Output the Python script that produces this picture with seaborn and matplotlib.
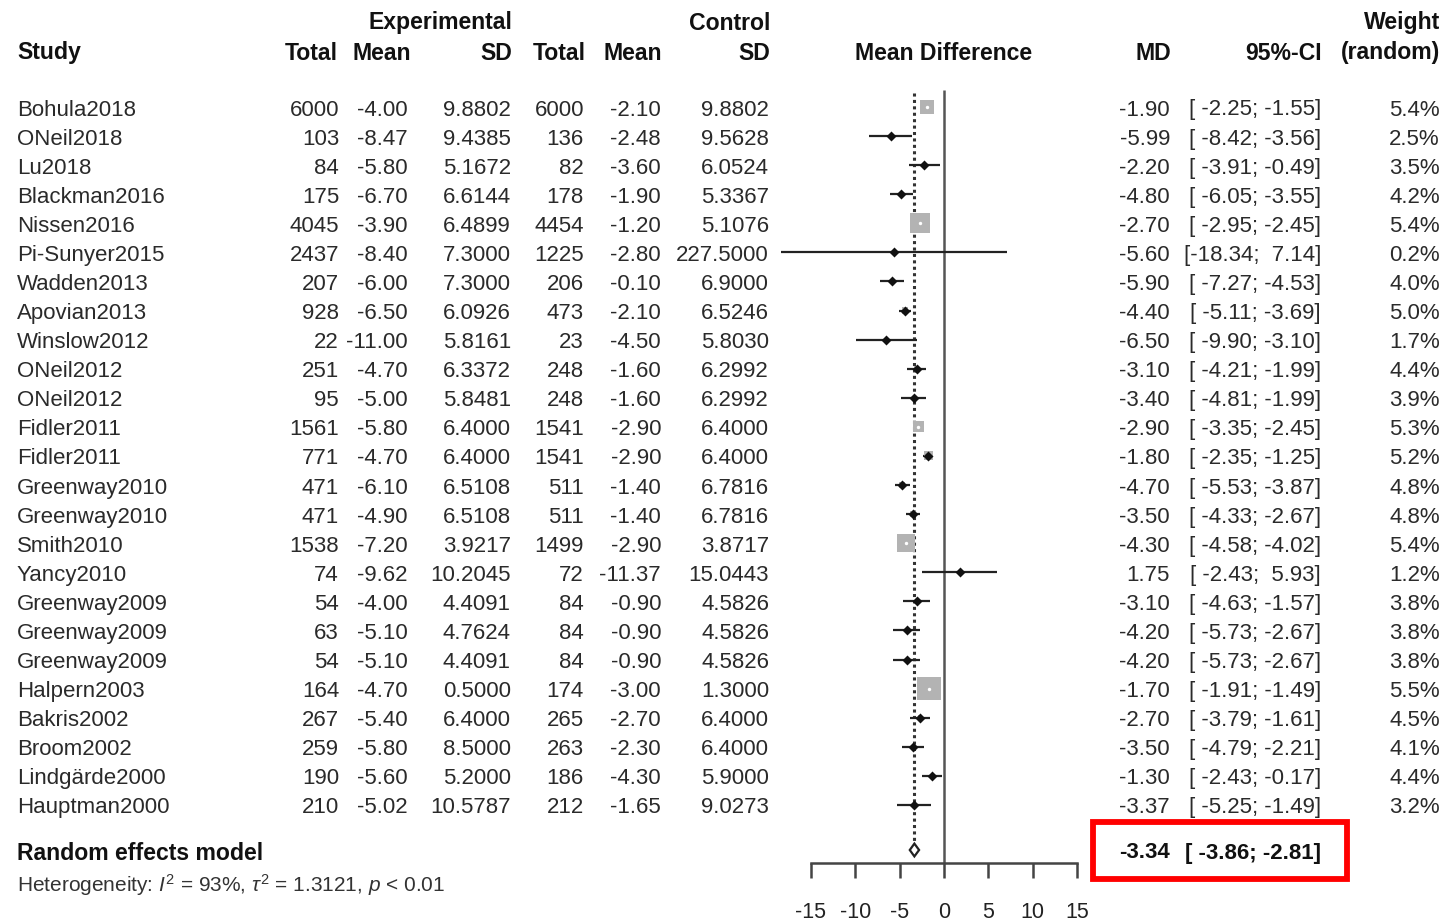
import numpy as np
import pandas as pd
import matplotlib
matplotlib.use("Agg")
import matplotlib.pyplot as plt
import matplotlib.transforms as mtransforms
from matplotlib.patches import Rectangle
import seaborn as sns

# ---------------- data ----------------
studies = ["Bohula2018", "ONeil2018", "Lu2018", "Blackman2016", "Nissen2016",
           "Pi-Sunyer2015", "Wadden2013", "Apovian2013", "Winslow2012", "ONeil2012",
           "ONeil2012", "Fidler2011", "Fidler2011", "Greenway2010", "Greenway2010",
           "Smith2010", "Yancy2010", "Greenway2009", "Greenway2009", "Greenway2009",
           "Halpern2003", "Bakris2002", "Broom2002", "Lindgärde2000", "Hauptman2000"]
exp_total = [6000, 103, 84, 175, 4045, 2437, 207, 928, 22, 251, 95, 1561, 771, 471, 471,
             1538, 74, 54, 63, 54, 164, 267, 259, 190, 210]
exp_mean = [-4.00, -8.47, -5.80, -6.70, -3.90, -8.40, -6.00, -6.50, -11.00, -4.70, -5.00,
            -5.80, -4.70, -6.10, -4.90, -7.20, -9.62, -4.00, -5.10, -5.10, -4.70, -5.40,
            -5.80, -5.60, -5.02]
exp_sd = [9.8802, 9.4385, 5.1672, 6.6144, 6.4899, 7.3000, 7.3000, 6.0926, 5.8161, 6.3372,
          5.8481, 6.4000, 6.4000, 6.5108, 6.5108, 3.9217, 10.2045, 4.4091, 4.7624, 4.4091,
          0.5000, 6.4000, 8.5000, 5.2000, 10.5787]
ctl_total = [6000, 136, 82, 178, 4454, 1225, 206, 473, 23, 248, 248, 1541, 1541, 511, 511,
             1499, 72, 84, 84, 84, 174, 265, 263, 186, 212]
ctl_mean = [-2.10, -2.48, -3.60, -1.90, -1.20, -2.80, -0.10, -2.10, -4.50, -1.60, -1.60,
            -2.90, -2.90, -1.40, -1.40, -2.90, -11.37, -0.90, -0.90, -0.90, -3.00, -2.70,
            -2.30, -4.30, -1.65]
ctl_sd = [9.8802, 9.5628, 6.0524, 5.3367, 5.1076, 227.5000, 6.9000, 6.5246, 5.8030, 6.2992,
          6.2992, 6.4000, 6.4000, 6.7816, 6.7816, 3.8717, 15.0443, 4.5826, 4.5826, 4.5826,
          1.3000, 6.4000, 6.4000, 5.9000, 9.0273]
md = [-1.90, -5.99, -2.20, -4.80, -2.70, -5.60, -5.90, -4.40, -6.50, -3.10, -3.40, -2.90,
      -1.80, -4.70, -3.50, -4.30, 1.75, -3.10, -4.20, -4.20, -1.70, -2.70, -3.50, -1.30, -3.37]
ci_lo = [-2.25, -8.42, -3.91, -6.05, -2.95, -18.34, -7.27, -5.11, -9.90, -4.21, -4.81, -3.35,
         -2.35, -5.53, -4.33, -4.58, -2.43, -4.63, -5.73, -5.73, -1.91, -3.79, -4.79, -2.43, -5.25]
ci_hi = [-1.55, -3.56, -0.49, -3.55, -2.45, 7.14, -4.53, -3.69, -3.10, -1.99, -1.99, -2.45,
         -1.25, -3.87, -2.67, -4.02, 5.93, -1.57, -2.67, -2.67, -1.49, -1.61, -2.21, -0.17, -1.49]
weight = [5.4, 2.5, 3.5, 4.2, 5.4, 0.2, 4.0, 5.0, 1.7, 4.4, 3.9, 5.3, 5.2, 4.8, 4.8, 5.4,
          1.2, 3.8, 3.8, 3.8, 5.5, 4.5, 4.1, 4.4, 3.2]
re_md, re_lo, re_hi = -3.34, -3.86, -2.81
i2_pct, tau2, p_text = 93, 1.3121, "< 0.01"
x_ticks = [-15, -10, -5, 0, 5, 10, 15]

# ---------------- style ----------------
sns.set_theme(style="white")
plt.rcParams['font.family'] = ['Liberation Sans', 'DejaVu Sans']
plt.rcParams['axes.unicode_minus'] = False
plt.rcParams['mathtext.fontset'] = 'custom'
plt.rcParams['mathtext.rm'] = 'Liberation Sans'
plt.rcParams['mathtext.it'] = 'Liberation Sans:italic'
plt.rcParams['mathtext.bf'] = 'Liberation Sans:bold'

W, H = 1447, 924
fig = plt.figure(figsize=(W / 100, H / 100), dpi=100)
fig.patch.set_facecolor("white")

x0_px, unit_px = 944, 266 / 30.0
xmin, xmax = -19.5, 16.5
ax = fig.add_axes([(x0_px + xmin * unit_px) / W, 0, (xmax - xmin) * unit_px / W, 1])
row0, row_h = 107.0, 29.08


def yrow(p):
    return (p - row0) / row_h


ax.set_xlim(xmin, xmax)
ax.set_ylim(yrow(H), yrow(0))
ax.patch.set_visible(False)
ax.grid(False)

df = pd.DataFrame({"study": studies, "md": md, "lo": ci_lo, "hi": ci_hi, "w": weight})
df["row"] = np.arange(len(df))
se = (df["hi"] - df["lo"]) / (2 * 1.96)
df["wfix"] = 1.0 / se ** 2
df["sq"] = 3.3 * df["wfix"]
side_px = np.sqrt(df["sq"]) / 0.72

# reference lines
ax.vlines(0, yrow(90), yrow(863), color="#555555", lw=1.8, zorder=1)
ax.vlines(re_md, yrow(93), yrow(842), color="#333333", lw=2.2,
          linestyles=(0, (1.0, 1.1)), zorder=1)

# CIs
ax.hlines(df["row"], df["lo"], df["hi"], color="#222222", lw=1.6, zorder=2)

small = df[side_px <= 9.5]
big = df[side_px > 9.5]
sns.scatterplot(data=df, x="md", y="row", marker="s", s=df["sq"].to_numpy(),
                color="#b3b3b3", linewidth=0, zorder=3, ax=ax, legend=False)
sns.scatterplot(data=small, x="md", y="row", marker="D", s=26, color="#111111",
                linewidth=0, zorder=4, ax=ax, legend=False)
sns.scatterplot(data=big, x="md", y="row", marker="o", s=6, color="white",
                linewidth=0, zorder=5, ax=ax, legend=False)

# summary diamond
r_re = yrow(850)
dh = 0.22
ax.fill([re_lo, re_md, re_hi, re_md], [r_re, r_re - dh, r_re, r_re + dh],
        facecolor="white", edgecolor="#222222", lw=1.6, zorder=5)

# axis
for s in ["top", "right", "left"]:
    ax.spines[s].set_visible(False)
ax.spines["bottom"].set_position(("data", yrow(863)))
ax.spines["bottom"].set_bounds(x_ticks[0], x_ticks[-1])
ax.spines["bottom"].set_color("#444444")
ax.spines["bottom"].set_linewidth(1.8)
ax.set_xticks(x_ticks)
ax.set_xticklabels([str(t) for t in x_ticks])
ax.tick_params(axis="x", direction="out", length=11, width=1.8, color="#444444",
               labelsize=15.5, pad=17, labelcolor="#222222", bottom=True)
ax.set_yticks([])
ax.set_xlabel("")
ax.set_ylabel("")

trans = mtransforms.blended_transform_factory(fig.transFigure, ax.transData)
dy = 3  # vertical text offset in px


def txt(xp, yp, s, ha="right", bold=False, size=16, color="#2a2a2a"):
    ax.text(xp / W, yrow(yp + dy), s, transform=trans, ha=ha, va="center",
            fontsize=size, fontweight="bold" if bold else "normal", color=color,
            clip_on=False)


# headers
hc = "#111111"
hs = 16.6
txt(512, 20, "Experimental", bold=True, color=hc, size=hs)
txt(770, 20, "Control", bold=True, color=hc, size=hs)
txt(1440, 20, "Weight", bold=True, color=hc, size=hs)
txt(17, 50, "Study", ha="left", bold=True, color=hc, size=hs)
txt(338, 50, "Total", bold=True, color=hc, size=hs)
txt(411, 50, "Mean", bold=True, color=hc, size=hs)
txt(512, 50, "SD", bold=True, color=hc, size=hs)
txt(586, 50, "Total", bold=True, color=hc, size=hs)
txt(662, 50, "Mean", bold=True, color=hc, size=hs)
txt(770, 50, "SD", bold=True, color=hc, size=hs)
txt(944, 50, "Mean Difference", ha="center", bold=True, color=hc, size=hs)
txt(1171, 50, "MD", bold=True, color=hc, size=hs)
txt(1322, 50, "95%-CI", bold=True, color=hc, size=hs)
txt(1440, 50, "(random)", bold=True, color=hc, size=hs)


def fmt_ci(lo, hi):
    return "[" + f"{lo:.2f}".rjust(6) + "; " + f"{hi:.2f}".rjust(5) + "]"


for i in range(len(studies)):
    yp = row0 + row_h * i
    txt(17, yp, studies[i], ha="left")
    txt(339, yp, f"{exp_total[i]}")
    txt(408, yp, f"{exp_mean[i]:.2f}")
    txt(511, yp, f"{exp_sd[i]:.4f}")
    txt(584, yp, f"{ctl_total[i]}")
    txt(661, yp, f"{ctl_mean[i]:.2f}")
    txt(769, yp, f"{ctl_sd[i]:.4f}")
    txt(1170, yp, f"{md[i]:.2f}")
    txt(1321, yp, fmt_ci(ci_lo[i], ci_hi[i]))
    txt(1440, yp, f"{weight[i]:.1f}%")

# summary row
txt(17, 850, "Random effects model", ha="left", bold=True, color=hc, size=hs)
txt(1170, 850, f"{re_md:.2f}", bold=True, color=hc)
txt(1321, 850, fmt_ci(re_lo, re_hi), bold=True, color=hc)
txt(17, 882, f"Heterogeneity: $I^2$ = {i2_pct}%, $\\tau^2$ = {tau2:.4f}, $p$ {p_text}",
    ha="left", size=15, color="#333333")

# red highlight box
fig.patches.append(Rectangle((1093 / W, 1 - 879 / H), (1347 - 1093) / W, (879 - 822) / H,
                             transform=fig.transFigure, fill=False, edgecolor="#ff0000",
                             lw=4.2, zorder=10))

fig.savefig("out.png", dpi=100, facecolor="white")
